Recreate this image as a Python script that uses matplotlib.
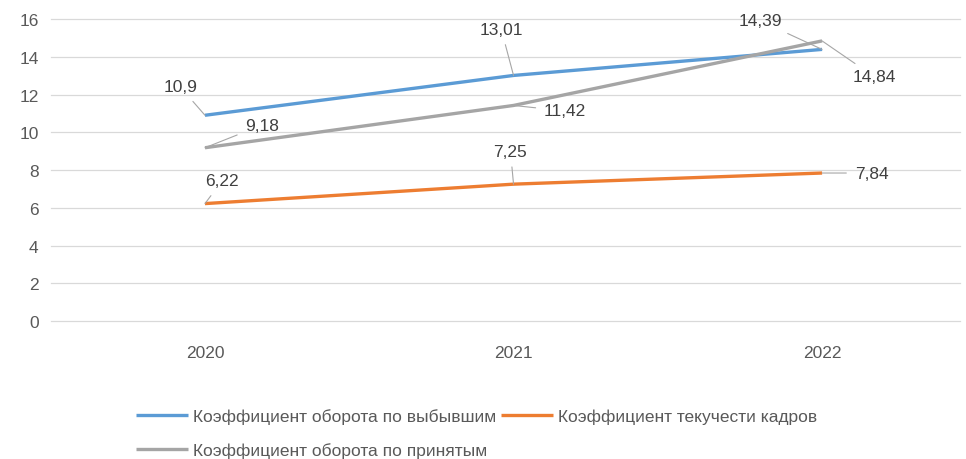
import matplotlib as mpl
mpl.use('Agg')
import matplotlib.pyplot as plt

years = ['2020', '2021', '2022']
vybyv = [10.9, 13.01, 14.39]
tekuch = [6.22, 7.25, 7.84]
prinyat = [9.18, 11.42, 14.84]

names = ['Коэффициент оборота по выбывшим',
         'Коэффициент текучести кадров',
         'Коэффициент оборота по принятым']
colors = ['#5B9BD5', '#ED7D31', '#A5A5A5']

# label positions (data coords) for each point: x, y
lab_vybyv = [(-0.08, 12.4), (0.96, 15.47), (1.80, 15.9)]
lab_tekuch = [(0.055, 7.42), (0.99, 9.0), (2.16, 7.84)]
lab_prinyat = [(0.185, 10.38), (1.167, 11.13), (2.17, 12.93)]

plt.rcParams['font.family'] = ['Liberation Sans', 'DejaVu Sans']
txt = '#595959'

fig = plt.figure(figsize=(9.66, 4.6), dpi=100)
ax = fig.add_axes([0.0528, 0.3, 0.941, 0.6565])

x = list(range(len(years)))
handles = []
for vals, labs, c, n in zip([vybyv, tekuch, prinyat],
                            [lab_vybyv, lab_tekuch, lab_prinyat], colors, names):
    h, = ax.plot(x, vals, color=c, lw=2.4, solid_capstyle='butt', label=n, zorder=3)
    handles.append(h)
    for xi, v, (lx, ly) in zip(x, vals, labs):
        s = ('%g' % v).replace('.', ',')
        ax.annotate(s, xy=(xi, v), xytext=(lx, ly), textcoords='data',
                    ha='center', va='center', fontsize=12.5, color='#404040',
                    arrowprops=dict(arrowstyle='-', color='#A6A6A6', lw=0.8,
                                    shrinkA=4, shrinkB=0),
                    zorder=4)

ax.set_xlim(-0.499, 2.447)
ax.set_ylim(0, 16)
ax.set_yticks(range(0, 17, 2))
ax.set_xticks(x)
ax.set_xticklabels(years)
ax.grid(axis='y', color='#D9D9D9', lw=0.9)
for gl in ax.get_ygridlines():
    gl.set_clip_on(False)
ax.set_axisbelow(True)
for sp in ax.spines.values():
    sp.set_visible(False)
ax.tick_params(length=0, labelsize=12.5, colors=txt)
ax.tick_params(axis='y', pad=9)
ax.tick_params(axis='x', pad=17)

fig.legend([handles[0], handles[2], handles[1]],
           [names[0], names[2], names[1]],
           ncol=2, loc='upper left', bbox_to_anchor=(0.141, 0.11),
           frameon=False, fontsize=12.5, labelcolor=txt,
           handlelength=3.0, handletextpad=0.25, columnspacing=0.3,
           labelspacing=1.05, borderaxespad=0, borderpad=0)

fig.savefig('out.png', dpi=100)
